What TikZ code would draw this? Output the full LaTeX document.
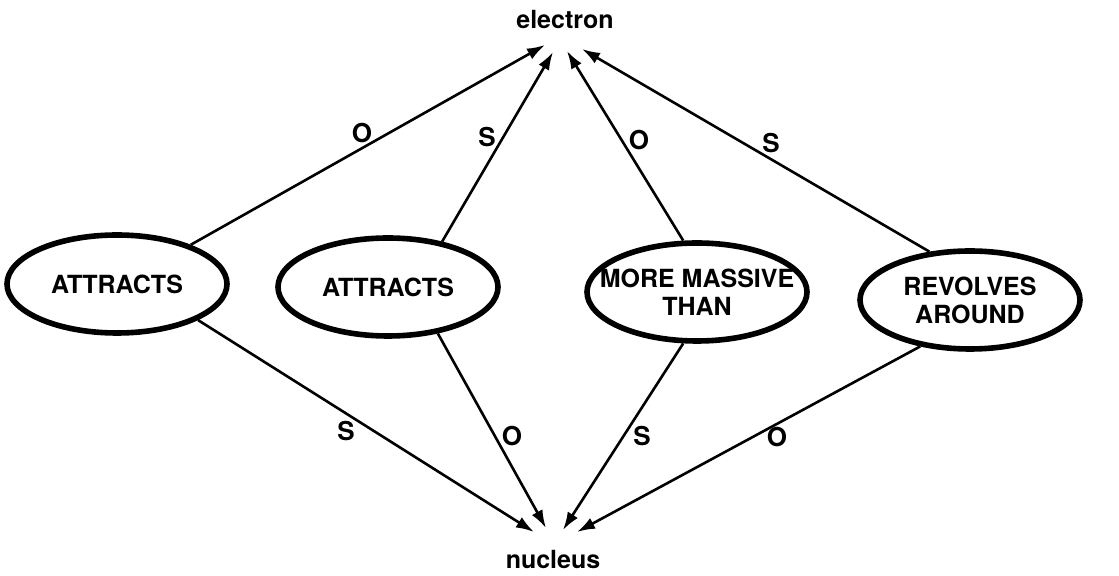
\documentclass[tikz,border=0pt]{standalone}
\usepackage{fontspec}
\setmainfont{TeX Gyre Heros}
\usetikzlibrary{arrows.meta,shapes.geometric}

\begin{document}
\begin{tikzpicture}[
  x=0.5pt,y=-0.5pt,
  rel/.style={ellipse,draw,line width=2.8pt,minimum width=110pt,minimum height=49pt,
    inner xsep=-16pt,inner ysep=0pt,align=center,font=\bfseries\fontsize{12.5}{14}\selectfont},
  concept/.style={font=\bfseries\fontsize{12.5}{14}\selectfont,inner sep=2pt},
  arr/.style={-{Latex[length=9pt,width=6pt]},line width=1.3pt},
  role/.style={font=\bfseries\fontsize{13}{14}\selectfont,inner sep=0pt}
]
  \useasboundingbox (0,0) rectangle (1119,576);
  \node[concept] (el) at (565,20) {electron};
  \node[concept] (nu) at (553,560) {nucleus};

  \node[rel] (r1) at (117,284) {ATTRACTS};
  \node[rel] (r2) at (388,287) {ATTRACTS};
  \node[rel] (r3) at (697,292) {MORE MASSIVE\\THAN};
  \node[rel] (r4) at (970,300) {REVOLVES\\AROUND};

  % object / subject links to electron
  \draw[arr] (r1.28) -- ([shift={(-20,25)}]el.center);
  \draw[arr] (r2.40) -- ([shift={(-12,32)}]el.center);
  \draw[arr] (r3.105) -- ([shift={(2,31)}]el.center);
  \draw[arr] (r4.130) -- ([shift={(17,29)}]el.center);
  % links to nucleus
  \draw[arr] (r1.-24) -- ([shift={(-19,-28)}]nu.center);
  \draw[arr] (r2.-43) -- ([shift={(-7,-32)}]nu.center);
  \draw[arr] (r3.255) -- ([shift={(10,-30)}]nu.center);
  \draw[arr] (r4.223) -- ([shift={(24,-28)}]nu.center);

  \node[role] (r1o) at (362,133) {O};
  \node[role] (r2s) at (487,137) {S};
  \node[role] (r3o) at (639,140) {O};
  \node[role] (r4s) at (771,143) {S};
  \node[role] (r1s) at (346,431) {S};
  \node[role] (r2o) at (512,436) {O};
  \node[role] (r3s) at (642,436) {S};
  \node[role] (r4o) at (777,437) {O};
\end{tikzpicture}
\end{document}
